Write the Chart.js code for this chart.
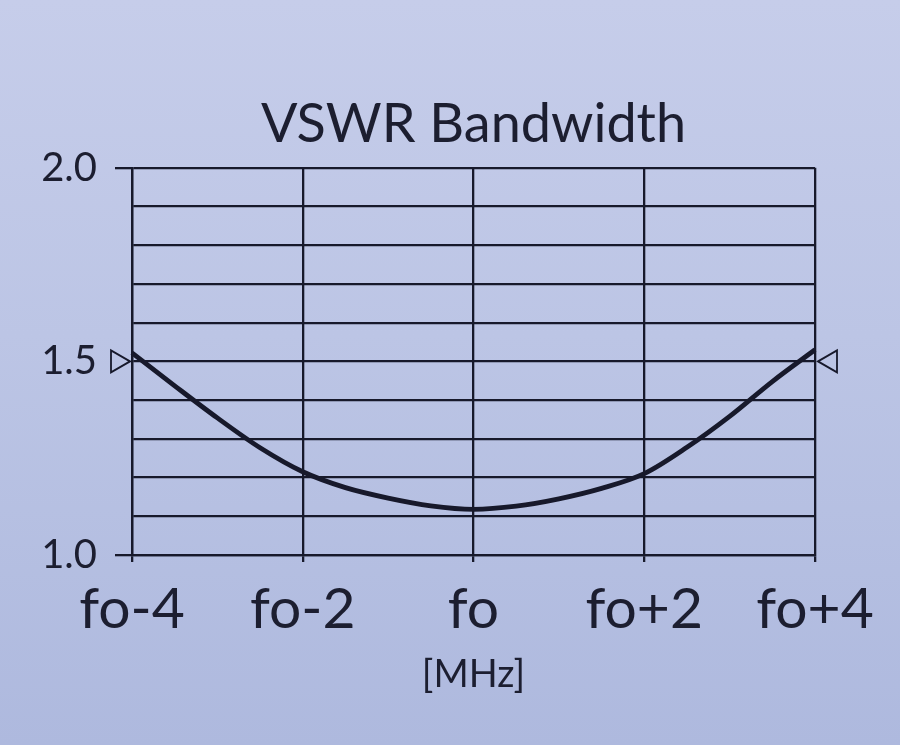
<!DOCTYPE html>
<html>
<head>
<meta charset="utf-8">
<script src="https://cdn.jsdelivr.net/npm/chart.js@4"></script>
<style>
  html, body { margin: 0; padding: 0; }
  body { width: 900px; height: 745px; background: linear-gradient(180deg, #c6cdea 0%, #bcc5e5 45%, #aeb9de 100%); overflow: hidden; }
  #wrap { position: absolute; left: 0; top: 0; width: 900px; height: 745px; }
</style>
</head>
<body>
<div id="wrap"><canvas id="c" width="900" height="745"></canvas></div>
<script>
// ---- data ----
const freqOffsets = [-4, -3.5, -3, -2.5, -2, -1.5, -1, -0.5, 0, 0.5, 1, 1.5, 2, 2.5, 3, 3.5, 4];
const vswrValues  = [1.522, 1.437, 1.354, 1.277, 1.215, 1.174, 1.147, 1.127, 1.118, 1.126, 1.145, 1.172, 1.21, 1.278, 1.358, 1.448, 1.53];
const xTickValues = [-4, -2, 0, 2, 4];
const xTickLabels = ['fo-4', 'fo-2', 'fo', 'fo+2', 'fo+4'];
const yLabelledTicks = [1.0, 1.5, 2.0];
const yMajorTicks = [1.0, 2.0];
const markerValues = [1.5];
const chartTitle = 'VSWR Bandwidth';
const xAxisTitle = '[MHz]';

const INK = '#17192b';
const TEXT = '#1c1e30';

const near = (a, b) => Math.abs(a - b) < 1e-6;

const markerPlugin = {
  id: 'vswrMarkers',
  afterDatasetsDraw(chart) {
    const { ctx, chartArea, scales } = chart;
    ctx.save();
    ctx.strokeStyle = INK;
    ctx.lineWidth = 1.8;
    markerValues.forEach(v => {
      const y = scales.y.getPixelForValue(v);
      const xl = chartArea.left - 2;
      ctx.beginPath();
      ctx.moveTo(xl, y);
      ctx.lineTo(xl - 19, y - 11);
      ctx.lineTo(xl - 19, y + 11);
      ctx.closePath();
      ctx.stroke();
      const xr = chartArea.right + 3;
      ctx.beginPath();
      ctx.moveTo(xr, y);
      ctx.lineTo(xr + 19, y - 11);
      ctx.lineTo(xr + 19, y + 11);
      ctx.closePath();
      ctx.stroke();
    });
    ctx.restore();
  }
};

new Chart(document.getElementById('c'), {
  type: 'line',
  data: {
    datasets: [{
      data: freqOffsets.map((x, i) => ({ x, y: vswrValues[i] })),
      borderColor: INK,
      borderWidth: 4.8,
      pointRadius: 0,
      fill: false,
      cubicInterpolationMode: 'monotone',
      clip: false,
      yAxisID: 'y'
    }]
  },
  options: {
    responsive: false,
    animation: false,
    events: [],
    layout: { padding: { left: 0, right: 0, top: 0, bottom: 47 } },
    plugins: {
      legend: { display: false },
      tooltip: { enabled: false },
      title: {
        display: true,
        fullSize: false,
        text: chartTitle,
        color: TEXT,
        font: { family: 'Lato', size: 54, weight: 'normal' },
        padding: { top: 92, bottom: 11 }
      }
    },
    scales: {
      x: {
        type: 'linear',
        min: -4, max: 4,
        afterBuildTicks(scale) { scale.ticks = xTickValues.map(v => ({ value: v })); },
        ticks: {
          color: TEXT,
          font: { family: 'Lato', size: 57 },
          padding: 13,
          maxRotation: 0,
          autoSkip: false,
          callback(v) { const i = xTickValues.indexOf(v); return i >= 0 ? xTickLabels[i] : ''; }
        },
        grid: { color: INK, lineWidth: 2.3, tickLength: 7, tickColor: INK, tickWidth: 2.3 },
        border: { color: INK, width: 2.3 },
        title: {
          display: true, text: xAxisTitle, color: TEXT,
          font: { family: 'Lato', size: 38 }, padding: { top: -4, bottom: 0 }
        }
      },
      y: {
        type: 'linear',
        position: 'left',
        min: 1.0, max: 2.0,
        afterFit(scale) { scale.width = 132; },
        ticks: {
          stepSize: 0.1,
          color: TEXT,
          font: { family: 'Lato', size: 40 },
          padding: 18,
          autoSkip: false,
          callback(v) { return yLabelledTicks.some(t => near(t, v)) ? Number(v).toFixed(1) : ''; }
        },
        grid: {
          color: INK, lineWidth: 2.3, tickLength: 17, tickWidth: 2.3,
          tickColor(ctx) { return ctx.tick && yMajorTicks.some(t => near(t, ctx.tick.value)) ? INK : 'rgba(0,0,0,0)'; }
        },
        border: { color: INK, width: 2.3 }
      },
      yRight: {
        type: 'linear',
        position: 'right',
        min: 1.0, max: 2.0,
        afterFit(scale) { scale.width = 85; },
        ticks: { display: false },
        grid: { display: false, drawTicks: false },
        border: { display: false }
      }
    }
  },
  plugins: [markerPlugin]
});
</script>
</body>
</html>
